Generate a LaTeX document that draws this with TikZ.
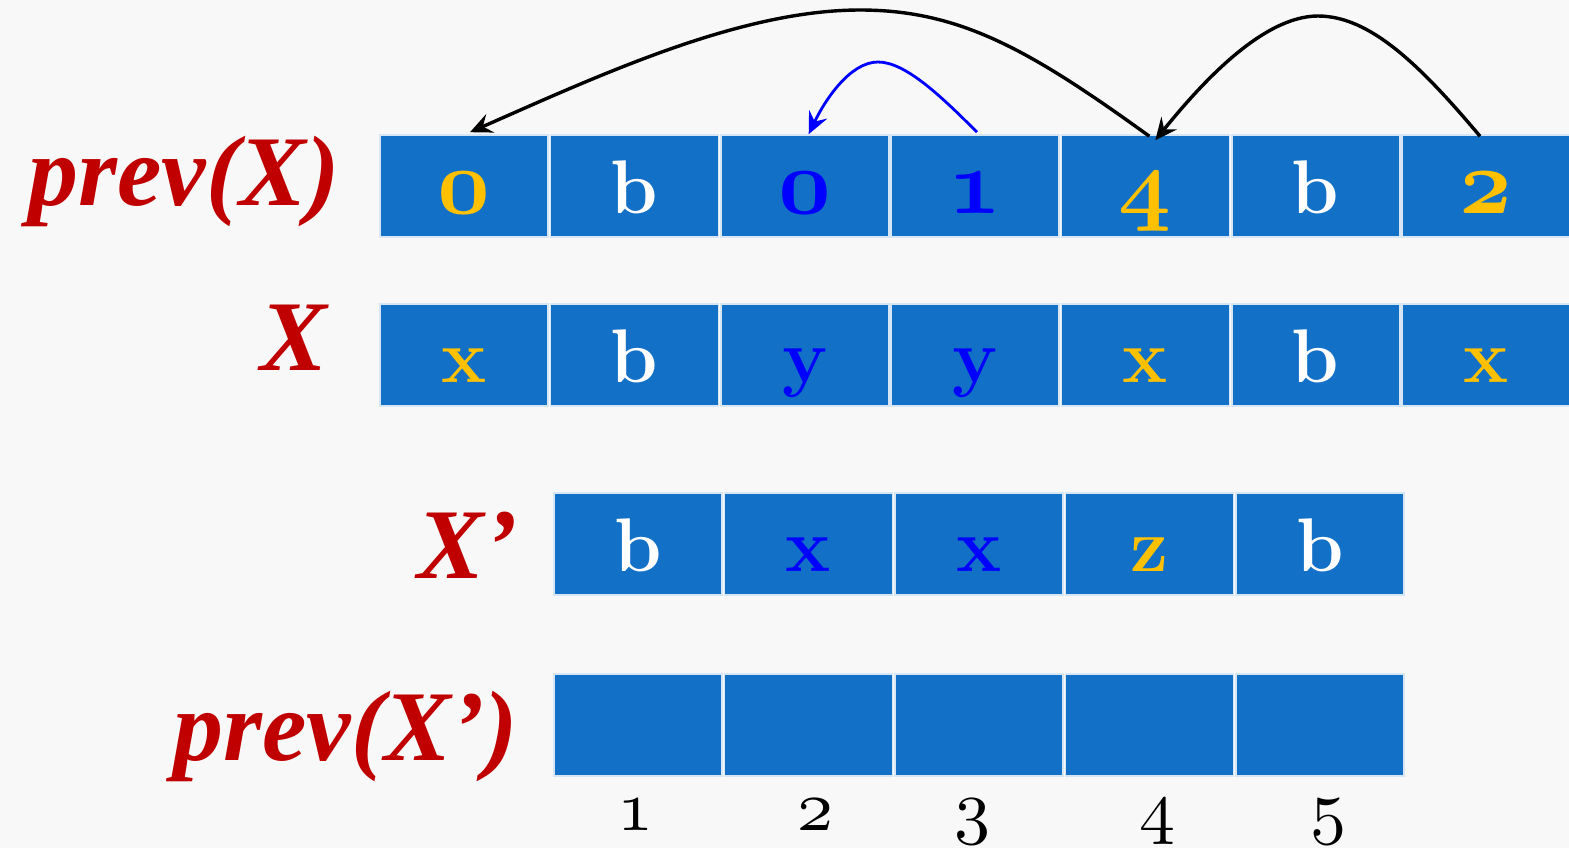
\documentclass[tikz,border=0pt]{standalone}
\usepackage{fontspec}
\newfontfamily\labfont{Liberation Serif}
\usetikzlibrary{arrows.meta}
\definecolor{cellblue}{HTML}{1270C6}
\definecolor{cellline}{HTML}{D6E6F5}
\definecolor{gold}{HTML}{FFC000}
\definecolor{pureblue}{HTML}{0000FF}
\definecolor{labred}{HTML}{C00000}
\definecolor{bgc}{HTML}{F8F8F8}
\DeclareFontFamily{OML}{oscmm}{\skewchar\font'177}
\DeclareFontShape{OML}{oscmm}{m}{it}{<->cmmi10}{}
\DeclareFontShape{OML}{oscmm}{b}{it}{<->cmmib10}{}
\newcommand\bnum[1]{{\fontsize{46}{48}\usefont{OML}{oscmm}{b}{it}#1}}
\newcommand\rnum[1]{{\fontsize{36}{40}\usefont{OML}{oscmm}{m}{it}#1}}
\begin{document}
\begin{tikzpicture}[x=0.5pt,y=-0.5pt,
  cell/.style={fill=cellblue,draw=cellline,line width=0.8pt,inner sep=0pt,
    minimum width=84pt,minimum height=51pt,text height=39pt,text depth=12pt,
    font=\bfseries\fontsize{38}{40}\selectfont},
  lab/.style={anchor=base east,inner sep=0pt,text=labred,
    font=\labfont\bfseries\itshape\fontsize{50}{56}\selectfont},
  num/.style={anchor=base,inner sep=0pt},
  arr/.style={line width=1.7pt,-{Stealth[length=11pt,width=10pt,inset=4pt]}}]
\clip (0,0) rectangle (1569,848);
\fill[bgc] (0,0) rectangle (1569,848);
% row prev(X)
\node[cell,text=gold]      (p1) at (464,186)    {\bnum{0}};
\node[cell,text=white]     (p2) at (634.3,186)  {b};
\node[cell,text=pureblue]  (p3) at (804.7,186)  {\bnum{0}};
\node[cell,text=pureblue]  (p4) at (975,186)    {\bnum{1}};
\node[cell,text=gold]      (p5) at (1145.3,186) {\bnum{4}};
\node[cell,text=white]     (p6) at (1315.7,186) {b};
\node[cell,text=gold]      (p7) at (1486,186)   {\bnum{2}};
% row X
\node[cell,text=gold]      (x1) at (464,355)    {x};
\node[cell,text=white]     (x2) at (634.3,355)  {b};
\node[cell,text=pureblue]  (x3) at (804.7,355)  {y};
\node[cell,text=pureblue]  (x4) at (975,355)    {y};
\node[cell,text=gold]      (x5) at (1145.3,355) {x};
\node[cell,text=white]     (x6) at (1315.7,355) {b};
\node[cell,text=gold]      (x7) at (1486,355)   {x};
% row X'
\node[cell,text=white]     (y1) at (638,544)    {b};
\node[cell,text=pureblue]  (y2) at (808.5,544)  {x};
\node[cell,text=pureblue]  (y3) at (979,544)    {x};
\node[cell,text=gold]      (y4) at (1149.5,544) {z};
\node[cell,text=white]     (y5) at (1320,544)   {b};
% row prev(X')
\node[cell] (q1) at (638,725)    {};
\node[cell] (q2) at (808.5,725)  {};
\node[cell] (q3) at (979,725)    {};
\node[cell] (q4) at (1149.5,725) {};
\node[cell] (q5) at (1320,725)   {};
% labels
\node[lab] (l1) at (340,205) {prev(X)};
\node[lab] (l2) at (328,370) {X};
\node[lab] (l3) at (518,578) {X’};
\node[lab] (l4) at (518,760) {prev(X’)};
% indices
\node[num] (n1) at (635,830)  {\rnum{1}};
\node[num] (n2) at (815,830)  {\rnum{2}};
\node[num] (n3) at (972,830)  {\rnum{3}};
\node[num] (n4) at (1157,830) {\rnum{4}};
\node[num] (n5) at (1328,830) {\rnum{5}};
% arrows
\draw[arr] ([xshift=-3pt,yshift=-1pt]p7.north) .. controls (1420,65) and (1370,16) .. (1318,16)
  .. controls (1262,16) and (1200,85) .. ([xshift=5pt,yshift=-3pt]p5.north);
\draw[arr] ([xshift=2pt,yshift=-1pt]p5.north) .. controls (1030,50) and (960,10) .. (860,10)
  .. controls (740,10) and (600,75) .. ([xshift=3pt,yshift=1pt]p1.north);
\draw[arr,pureblue,line width=1.4pt] ([xshift=1pt,yshift=1pt]p4.north) .. controls (940,95) and (905,62) .. (878,62)
  .. controls (850,62) and (825,100) .. ([xshift=2pt,yshift=0pt]p3.north);
\end{tikzpicture}
\end{document}
